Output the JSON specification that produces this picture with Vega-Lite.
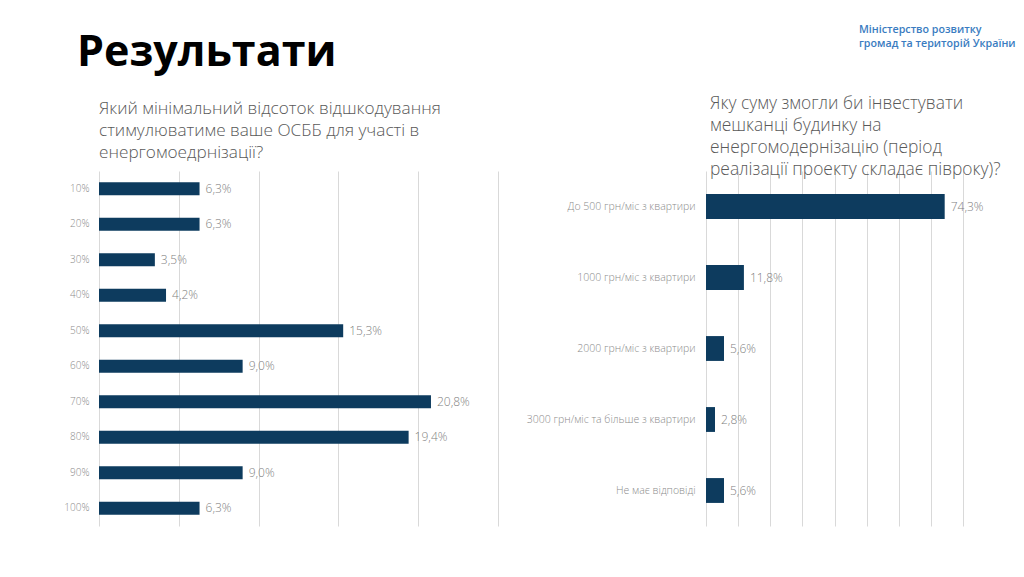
{
  "$schema": "https://vega.github.io/schema/vega-lite/v6.json",
  "background": "white",
  "padding": {"left": 63, "top": 23, "right": 5, "bottom": 5},
  "bounds": "flush",
  "spacing": 208,
  "config": {
    "locale": {"number": {"decimal": ",", "thousands": " ", "grouping": [3], "currency": ["", ""]}},
    "view": {"stroke": null},
    "font": "Open Sans"
  },
  "hconcat": [
    {
      "width": 399,
      "height": 355,
      "title": {
        "text": "Результати",
        "subtitle": ["Який мінімальний відсоток відшкодування", "стимулюватиме ваше ОСББ для участі в", "енергомоедрнізації?"],
        "anchor": "start",
        "frame": "group",
        "font": "Open Sans",
        "fontSize": 43,
        "fontWeight": "bold",
        "color": "#000000",
        "subtitleFont": "Open Sans",
        "subtitleFontSize": 17.2,
        "subtitleFontWeight": 300,
        "subtitleColor": "#595959",
        "subtitleLineHeight": 22,
        "subtitlePadding": 25,
        "offset": 10,
        "encoding": {"dx": {"value": -22}}
      },
      "data": {"values": [
        {"cat": "10%", "v": 0.063},
        {"cat": "20%", "v": 0.063},
        {"cat": "30%", "v": 0.035},
        {"cat": "40%", "v": 0.042},
        {"cat": "50%", "v": 0.153},
        {"cat": "60%", "v": 0.090},
        {"cat": "70%", "v": 0.208},
        {"cat": "80%", "v": 0.194},
        {"cat": "90%", "v": 0.090},
        {"cat": "100%", "v": 0.063}
      ]},
      "encoding": {
        "y": {"field": "cat", "type": "nominal", "sort": null,
          "scale": {"paddingInner": 0.64, "paddingOuter": 0.32},
          "axis": {"title": null, "domain": false, "ticks": false, "grid": false, "labelPadding": 10, "labelFontSize": 10, "labelColor": "#8c8c8c", "labelFont": "Open Sans", "labelFontWeight": 300}},
        "x": {"field": "v", "type": "quantitative",
          "scale": {"domain": [0, 0.25], "nice": false},
          "axis": {"title": null, "labels": false, "ticks": false, "domain": false, "grid": true, "gridColor": "#d9d9d9", "values": [0, 0.05, 0.1, 0.15, 0.2, 0.25]}}
      },
      "layer": [
        {"mark": {"type": "bar", "color": "#0d3b5e"}},
        {"mark": {"type": "text", "align": "left", "baseline": "middle", "dx": 6, "fontSize": 12, "color": "#7f7f7f", "font": "Open Sans", "fontWeight": 300},
         "encoding": {"text": {"field": "v", "type": "quantitative", "format": ".1%"}}}
      ]
    },
    {
      "width": 257,
      "height": 355,
      "title": {
        "text": ["Міністерство розвитку", "громад та територій України"],
        "subtitle": ["Яку суму змогли би інвестувати", "мешканці будинку на", "енергомодернізацію (період", "реалізації проекту складає півроку)?"],
        "anchor": "start",
        "frame": "group",
        "dx": 4,
        "font": "Open Sans",
        "fontSize": 10.7,
        "fontWeight": 600,
        "lineHeight": 14,
        "color": "#3a7cc1",
        "subtitleFont": "Open Sans",
        "subtitleFontSize": 17.4,
        "subtitleFontWeight": 300,
        "subtitleColor": "#595959",
        "subtitleLineHeight": 22,
        "subtitlePadding": 45,
        "offset": -8,
        "encoding": {"dx": {"value": 153}}
      },
      "data": {"values": [
        {"cat": "До 500 грн/міс з квартири", "v": 0.743},
        {"cat": "1000 грн/міс з квартири", "v": 0.118},
        {"cat": "2000 грн/міс з квартири", "v": 0.056},
        {"cat": "3000 грн/міс та більше з квартири", "v": 0.028},
        {"cat": "Не має відповіді", "v": 0.056}
      ]},
      "encoding": {
        "y": {"field": "cat", "type": "nominal", "sort": null,
          "scale": {"paddingInner": 0.65, "paddingOuter": 0.325},
          "axis": {"title": null, "domain": false, "ticks": false, "grid": false, "labelPadding": 11, "labelFontSize": 10.5, "labelColor": "#8c8c8c", "labelFont": "Open Sans", "labelFontWeight": 300, "labelLimit": 300}},
        "x": {"field": "v", "type": "quantitative",
          "scale": {"domain": [0, 0.8], "nice": false},
          "axis": {"title": null, "labels": false, "ticks": false, "domain": false, "grid": true, "gridColor": "#d9d9d9", "values": [0, 0.1, 0.2, 0.3, 0.4, 0.5, 0.6, 0.7, 0.8]}}
      },
      "layer": [
        {"mark": {"type": "bar", "color": "#0d3b5e"}},
        {"mark": {"type": "text", "align": "left", "baseline": "middle", "dx": 6, "fontSize": 12, "color": "#7f7f7f", "font": "Open Sans", "fontWeight": 300},
         "encoding": {"text": {"field": "v", "type": "quantitative", "format": ".1%"}}}
      ]
    }
  ]
}
